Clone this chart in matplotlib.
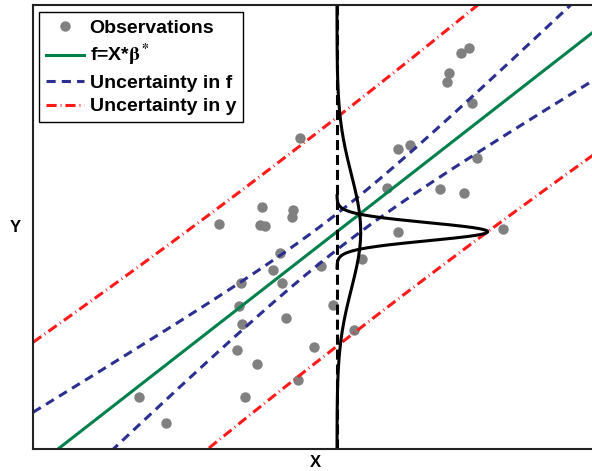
import numpy as np
import matplotlib.pyplot as plt

plt.rcParams['font.family'] = ['Liberation Sans', 'DejaVu Sans']
plt.rcParams['font.weight'] = 'bold'
plt.rcParams['mathtext.fontset'] = 'stix'

# observations
obs_x = [2.67, 1.86, 2.29, 2.60, 2.59, 2.27, 2.32, 2.47, 2.40, 2.08,
         2.49, 2.88, 2.06, 3.00, 2.09, 2.53, 2.04, 2.81, 2.24, 2.65,
         1.06, 2.12, 1.33, 3.21, 3.29, 3.65, 3.54, 4.07, 4.31, 3.65,
         3.77, 4.44, 4.39, 4.16, 4.14, 4.28, 4.36, 4.70]
obs_y = [3.11, 2.25, 2.42, 2.39, 2.32, 2.24, 2.23, 1.96, 1.79, 1.66,
         1.66, 1.83, 1.43, 1.44, 1.25, 1.31, 0.99, 1.02, 0.85, 0.69,
         0.52, 0.52, 0.26, 1.19, 1.90, 2.17, 2.61, 2.60, 2.56, 3.00,
         3.04, 2.91, 3.46, 3.76, 3.67, 3.96, 4.01, 2.20]

# fitted line and its uncertainty
beta = [-0.195, 0.779]      # intercept, slope
x_star = 3.04               # where the densities are drawn
sigma_f0 = 0.09             # std of f at x_star
sigma_f_slope = 0.0875      # growth of std of f away from x_star
sigma_noise = 0.565         # observation noise
pdf_scale = 0.34

x = np.linspace(0, 5.64, 300)
f = beta[0] + beta[1] * x
s_f = np.sqrt(sigma_f0**2 + (sigma_f_slope * (x - x_star))**2)
s_y = np.sqrt(s_f**2 + sigma_noise**2)

fig = plt.figure(figsize=(5.92, 4.71), dpi=100)
ax = fig.add_axes([33/592, 22/471, 564/592, 444/471])

blue = '#2b2f8f'
red = '#ff1a1a'
green = '#00804a'

ax.plot(obs_x, obs_y, 'o', color='#808080', ms=7.5, mec='none', label='Observations')
ax.plot(x, f, '-', color=green, lw=2.2, label=r'f=X*$\mathrm{\beta}^*$')
ax.plot(x, f + 2*s_f, '--', color=blue, lw=2.2, dashes=(3.0, 2.0), label='Uncertainty in f')
ax.plot(x, f - 2*s_f, '--', color=blue, lw=2.2, dashes=(3.0, 2.0))
ax.plot(x, f + 2*s_y, '-.', color=red, lw=2.2, dashes=(3.3, 1.3, 0.3, 1.3), label='Uncertainty in y')
ax.plot(x, f - 2*s_y, '-.', color=red, lw=2.2, dashes=(3.3, 1.3, 0.3, 1.3))

# densities at x_star
f_star = beta[0] + beta[1] * x_star
sy_star = np.sqrt(sigma_f0**2 + sigma_noise**2)
ax.axvline(x_star, color='black', lw=2.2, ls='--', dashes=(3.3, 1.6))
yy = np.linspace(f_star - 4*sigma_f0, f_star + 4*sigma_f0, 200)
pdf_f = np.exp(-0.5*((yy - f_star)/sigma_f0)**2) / (sigma_f0*np.sqrt(2*np.pi))
ax.plot(x_star + pdf_scale*pdf_f, yy, color='black', lw=2.2)
yw = np.linspace(0, 4.44, 300)
pdf_y = np.exp(-0.5*((yw - f_star)/sy_star)**2) / (sy_star*np.sqrt(2*np.pi))
ax.plot(x_star + pdf_scale*pdf_y, yw, color='black', lw=2.2)

ax.set_xlim(0, 5.64)
ax.set_ylim(0, 4.44)
ax.set_xticks([])
ax.set_yticks([])
for s in ax.spines.values():
    s.set_linewidth(1.5)
    s.set_color('#222222')
ax.set_xlabel('X', fontsize=12, fontweight='bold', labelpad=4)
ax.set_ylabel('Y', fontsize=12, fontweight='bold', rotation=0, labelpad=13, va='center')

leg = ax.legend(loc='upper left', bbox_to_anchor=(0.0106, 0.984), borderaxespad=0,
                prop={'size': 14, 'weight': 'bold'}, handlelength=1.95, labelspacing=0.3,
                borderpad=0.35, handletextpad=0.3, fancybox=False, framealpha=1)
leg.get_frame().set_edgecolor('black')
leg.get_frame().set_linewidth(1)

plt.savefig('out.png', dpi=100)
